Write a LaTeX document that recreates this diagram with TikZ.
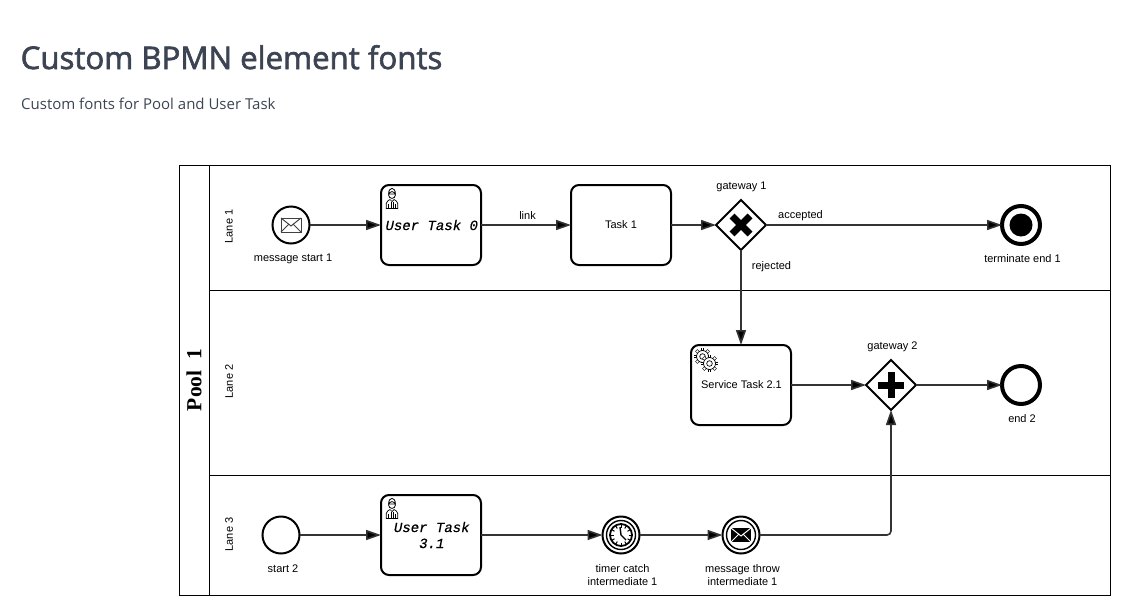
\documentclass[tikz,border=0pt]{standalone}
\usepackage{fontspec}
\usepackage{tikz}
\usetikzlibrary{arrows.meta,shapes.geometric}
\setmainfont{Liberation Sans}
\newfontfamily\headfont[FakeBold=2]{Open Sans}
\newfontfamily\subfont{Open Sans}
\newfontfamily\taskfont[ItalicFeatures={FakeBold=0.5}]{Liberation Mono}
\newfontfamily\poolfont{Liberation Serif}
\definecolor{headcol}{HTML}{3C4454}
\definecolor{flowcol}{HTML}{333333}
\tikzset{
    lab/.style={font=\fontsize{11}{13}\selectfont,align=center,inner sep=0pt},
    lanelab/.style={lab,rotate=90},
    task/.style={draw,line width=2,rounded corners=8,minimum width=100,minimum height=80,inner sep=0pt,outer sep=0pt,align=center,font=\fontsize{11}{13}\selectfont},
    usertask/.style={task,font=\taskfont\itshape\fontsize{14}{16}\selectfont},
    event/.style={draw,circle,line width=2,minimum size=37,inner sep=0pt,outer sep=0pt},
    endevent/.style={event,line width=4,minimum size=38},
    gateway/.style={draw,diamond,line width=2,minimum width=50,minimum height=50,inner sep=0pt,outer sep=0pt},
    flow/.style={draw=flowcol,line width=1.6,-{Triangle[length=15,width=10,fill=black]}},
    pics/envelope/.style={code={
        \draw[#1,line width=1] (-10,-7) rectangle (10,7);
        \draw[#1,line width=1] (-10,-7) -- (0,1) -- (10,-7);
        \draw[#1,line width=1] (-10,7) -- (-2,-1);
        \draw[#1,line width=1] (10,7) -- (2,-1);
    }},
    pics/solidenvelope/.style={code={
        \fill[black] (-10,-7) rectangle (10,7);
        \draw[white,line width=1] (-10,-7) -- (0,1) -- (10,-7);
        \draw[white,line width=1] (-10,7) -- (-2,-1);
        \draw[white,line width=1] (10,7) -- (2,-1);
    }},
    pics/worker/.style={code={
        \draw[line width=0.8] (0,-3) circle (3.4);
        \draw[line width=0.8] (-3.4,-4) .. controls (-3.4,-11.5) and (3.4,-11.5) .. (3.4,-4) -- cycle;
        \draw[line width=0.7] (-5.8,10.5) -- (-5.8,5.5) .. controls (-5.8,3) and (-3,2.5) .. (-2,1.5) -- (0,3.5) -- (2,1.5) .. controls (3,2.5) and (5.8,3) .. (5.8,5.5) -- (5.8,10.5) -- cycle;
        \draw[line width=0.7] (-3.2,6) -- (-3.2,10.5) (-1,4) -- (-1,10.5) (1,4) -- (1,10.5) (3.2,6) -- (3.2,10.5);
    }},
    pics/cog/.style={code={
        \foreach \ang in {0,45,...,315}
            \draw[line width=3] (\ang:5) -- (\ang:8.8);
        \foreach \ang in {0,45,...,315}
            \draw[white,line width=1.8] (\ang:4.5) -- (\ang:8.2);
        \draw[line width=0.7,fill=white] (0,0) circle (6);
        \draw[line width=0.7] (0,0) circle (2.8);
    }},
    pics/clock/.style={code={
        \draw[line width=1.8] (0,0) circle (11);
        \foreach \ang in {0,30,...,330}
            \draw[line width=1] (\ang:7.5) -- (\ang:10.5);
        \draw[line width=1.4] (-1,-8) -- (0,0) -- (5,5);
    }},
}
\begin{document}
\begin{tikzpicture}[x=1pt,y=-1pt]
    \useasboundingbox (0,0) rectangle (1140,600);

    \node[anchor=base west,inner sep=0pt,text=headcol,font=\headfont\fontsize{31.2}{36}\selectfont] (title) at (20.5,69) {Custom BPMN element fonts};
    \node[anchor=base west,inner sep=0pt,text=headcol,font=\subfont\fontsize{15}{18}\selectfont] (subtitle) at (21,109) {Custom fonts for Pool and User Task};

    \draw[line width=1] (179.5,165.5) rectangle (1110.5,595);
    \draw[line width=1] (209.5,165.5) -- (209.5,595);
    \draw[line width=1] (209.5,290.5) -- (1110.5,290.5);
    \draw[line width=1] (209.5,475.5) -- (1110.5,475.5);

    \node[rotate=90,inner sep=0pt,font=\poolfont\bfseries\fontsize{21.5}{24}\selectfont] (pool1) at (194,380) {Pool\ \ 1};
    \node[lanelab] (lane1) at (229,226.5) {Lane 1};
    \node[lanelab] (lane2) at (229,381.5) {Lane 2};
    \node[lanelab] (lane3) at (229,534.5) {Lane 3};

    \node[event] (msgstart1) at (291,225) {};
    \node[usertask] (usertask0) at (431,225) {\hspace*{1.5pt}User Task 0};
    \node[task] (task1) at (621,225) {Task 1};
    \node[gateway] (gateway1) at (741,225) {};
    \node[endevent] (termend1) at (1021,225) {};
    \node[task] (servicetask21) at (741,385) {\hspace*{1pt}Service Task 2.1};
    \node[gateway] (gateway2) at (891,385) {};
    \node[endevent] (end2) at (1021,385) {};
    \node[event] (start2) at (281,535) {};
    \node[usertask] (usertask31) at (431,535) {\hspace*{1.5pt}User Task\\\hspace*{1.5pt}3.1};
    \node[event] (timer1) at (621,535) {};
    \node[event] (msgthrow1) at (741,535) {};

    \pic at (msgstart1) {envelope=black!75};
    \pic at (392,198) {worker};
    \pic at (392,508) {worker};
    \pic at (702.5,356.5) {cog};
    \pic at (709.5,363.5) {cog};
    \fill[black] (termend1) circle (11.5);
    \draw[line width=1.4] (timer1) circle (14.5);
    \pic at (timer1) {clock};
    \draw[line width=1.4] (msgthrow1) circle (14.5);
    \pic at (msgthrow1) {solidenvelope};
    \draw[line width=7] (732,216) -- (750,234);
    \draw[line width=7] (750,216) -- (732,234);
    \draw[line width=7] (878,385) -- (904,385);
    \draw[line width=7] (891,372) -- (891,398);

    \draw[flow] (msgstart1) -- (usertask0);
    \draw[flow] (usertask0) -- (task1);
    \draw[flow] (task1) -- (gateway1);
    \draw[flow] (gateway1) -- (termend1);
    \draw[flow] (gateway1) -- (servicetask21);
    \draw[flow] (servicetask21) -- (gateway2);
    \draw[flow] (gateway2) -- (end2);
    \draw[flow] (start2) -- (usertask31);
    \draw[flow] (usertask31) -- (timer1);
    \draw[flow] (timer1) -- (msgthrow1);
    \draw[flow,rounded corners=4] (msgthrow1) -| (gateway2);

    \node[lab] (msgstartlab) at (293,259) {message start 1};
    \node[lab] (linklab) at (527.5,216) {link};
    \node[lab] (gw1lab) at (741.5,187) {gateway 1};
    \node[lab] (acceptedlab) at (800.5,216) {accepted};
    \node[lab] (rejectedlab) at (771.5,267) {rejected};
    \node[lab] (termendlab) at (1022.5,259) {terminate end 1};
    \node[lab] (gw2lab) at (892.5,347) {gateway 2};
    \node[lab] (endlab) at (1022,419) {end 2};
    \node[lab] (startlab) at (283,569) {start 2};
    \node[lab] (timerlab) at (622.5,575) {timer catch\\intermediate 1};
    \node[lab] (throwlab) at (742.5,575) {message throw\\intermediate 1};
\end{tikzpicture}
\end{document}
